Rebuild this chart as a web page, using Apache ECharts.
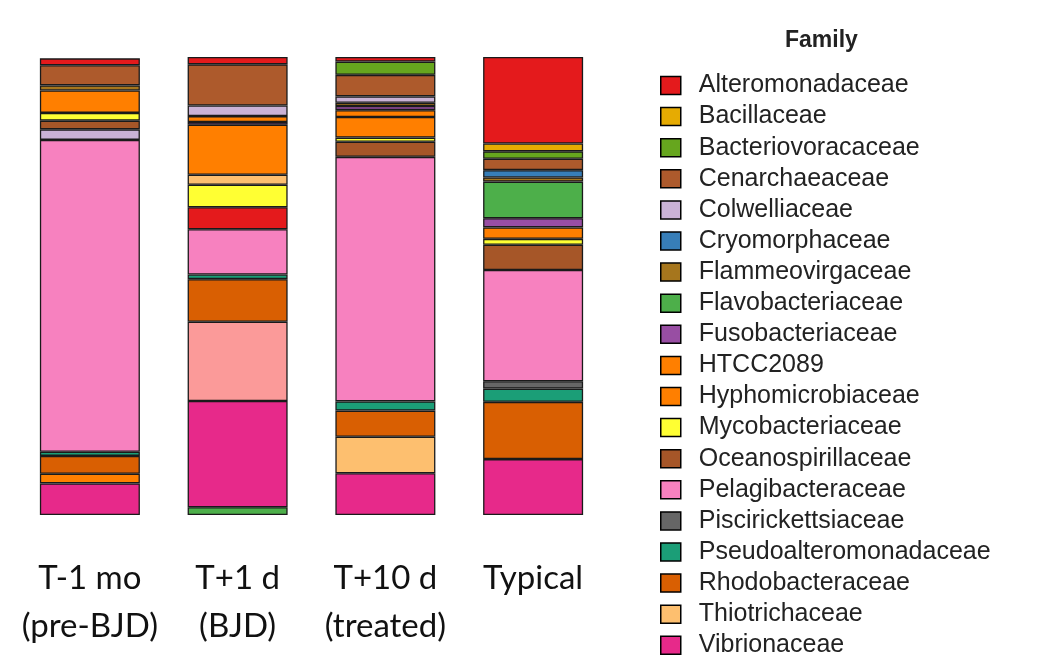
<!DOCTYPE html>
<html>
<head>
<meta charset="utf-8">
<script src="https://cdn.jsdelivr.net/npm/echarts@6/dist/echarts.min.js"></script>
<style>
  html, body { margin: 0; padding: 0; background: #ffffff; }
  #chart { width: 1062px; height: 672px; }
</style>
</head>
<body>
<div id="chart"></div>
<script>
// ---- Data (relative abundance, %, segments listed top to bottom) ----
const categories = ['T-1 mo\n(pre-BJD)', 'T+1 d\n(BJD)', 'T+10 d\n(treated)', 'Typical'];

const families = [
  'Alteromonadaceae', 'Bacillaceae', 'Bacteriovoracaceae', 'Cenarchaeaceae',
  'Colwelliaceae', 'Cryomorphaceae', 'Flammeovirgaceae', 'Flavobacteriaceae',
  'Fusobacteriaceae', 'HTCC2089', 'Hyphomicrobiaceae', 'Mycobacteriaceae',
  'Oceanospirillaceae', 'Pelagibacteraceae', 'Piscirickettsiaceae',
  'Pseudoalteromonadaceae', 'Rhodobacteraceae', 'Thiotrichaceae', 'Vibrionaceae'
];

const bar1Families = ['Alteromonadaceae', 'Cenarchaeaceae', 'Flammeovirgaceae', 'HTCC2089',
  'Mycobacteriaceae', 'Oceanospirillaceae', 'Colwelliaceae', 'Pelagibacteraceae',
  'Pseudoalteromonadaceae', 'Rhodobacteraceae', 'Hyphomicrobiaceae', 'Vibrionaceae'];
const bar1Values = [1.5, 4.4, 1.1, 4.9, 1.7, 1.9, 2.3, 68.1, 0.9, 3.9, 2.1, 6.9];

const bar2Families = ['Alteromonadaceae', 'Cenarchaeaceae', 'Colwelliaceae', 'HTCC2089',
  'Fusobacteriaceae', 'Hyphomicrobiaceae', 'Thiotrichaceae', 'Mycobacteriaceae',
  'Alteromonadaceae', 'Pelagibacteraceae', 'Pseudoalteromonadaceae', 'Rhodobacteraceae',
  'Other', 'Vibrionaceae', 'Flavobacteriaceae'];
const bar2Values = [1.6, 9.0, 2.3, 1.3, 0.6, 10.9, 2.2, 4.9, 4.8, 9.9, 1.0, 9.3, 17.3, 23.2, 1.7];

const bar3Families = ['Alteromonadaceae', 'Bacteriovoracaceae', 'Cenarchaeaceae', 'Colwelliaceae',
  'Flammeovirgaceae', 'Fusobacteriaceae', 'HTCC2089', 'Hyphomicrobiaceae', 'Mycobacteriaceae',
  'Oceanospirillaceae', 'Pelagibacteraceae', 'Pseudoalteromonadaceae', 'Rhodobacteraceae',
  'Thiotrichaceae', 'Vibrionaceae'];
const bar3Values = [1.0, 2.9, 4.7, 1.4, 0.7, 0.9, 1.5, 4.5, 0.9, 3.3, 53.4, 2.0, 5.7, 8.0, 9.1];

const bar4Families = ['Alteromonadaceae', 'Bacillaceae', 'Bacteriovoracaceae', 'Cenarchaeaceae',
  'Cryomorphaceae', 'Flammeovirgaceae', 'Flavobacteriaceae', 'Fusobacteriaceae', 'HTCC2089',
  'Mycobacteriaceae', 'Oceanospirillaceae', 'Pelagibacteraceae', 'Piscirickettsiaceae',
  'Pseudoalteromonadaceae', 'Rhodobacteraceae', 'Vibrionaceae'];
const bar4Values = [18.9, 1.7, 1.6, 2.5, 1.6, 0.9, 8.0, 2.0, 2.5, 1.3, 5.5, 24.3, 1.6, 2.9, 12.5, 12.2];

// ---- Colours ----
const palette = {
  'Alteromonadaceae': '#E41A1C', 'Bacillaceae': '#E6AB02', 'Bacteriovoracaceae': '#66A61E',
  'Cenarchaeaceae': '#AD5A2C', 'Colwelliaceae': '#CAB2D6', 'Cryomorphaceae': '#377EB8',
  'Flammeovirgaceae': '#A6761D', 'Flavobacteriaceae': '#4DAF4A', 'Fusobacteriaceae': '#984EA3',
  'HTCC2089': '#FF7F00', 'Hyphomicrobiaceae': '#FF7F00', 'Mycobacteriaceae': '#FFFF33',
  'Oceanospirillaceae': '#A65628', 'Pelagibacteraceae': '#F781BF', 'Piscirickettsiaceae': '#666666',
  'Pseudoalteromonadaceae': '#1B9E77', 'Rhodobacteraceae': '#D95F02', 'Thiotrichaceae': '#FDBF6F',
  'Vibrionaceae': '#E7298A', 'Other': '#FB9A99'
};

const bars = [
  { fam: bar1Families, val: bar1Values },
  { fam: bar2Families, val: bar2Values },
  { fam: bar3Families, val: bar3Values },
  { fam: bar4Families, val: bar4Values }
];

const maxLayers = Math.max(...bars.map(b => b.val.length));
const layerSeries = [];
for (let j = 0; j < maxLayers; j++) {
  layerSeries.push({
    name: 'layer' + j,
    type: 'bar',
    stack: 'total',
    barWidth: 100,
    silent: true,
    data: bars.map(b => {
      const k = b.val.length - 1 - j;   // j = 0 is the bottom segment
      if (k < 0) return '-';
      return { value: b.val[k], itemStyle: { color: palette[b.fam[k]] } };
    }),
    itemStyle: { borderColor: '#1a1a1a', borderWidth: 1.3 }
  });
}

const legendSeries = families.map(f => ({
  name: f, type: 'bar', stack: 'total', barWidth: 100, data: [],
  itemStyle: { color: palette[f], borderColor: '#000', borderWidth: 1.3 }
}));

const chart = echarts.init(document.getElementById('chart'), null, { renderer: 'canvas' });
chart.setOption({
  animation: false,
  backgroundColor: '#ffffff',
  title: {
    text: 'Family',
    left: 780, top: 24,
    textStyle: { fontFamily: 'Liberation Sans, Arial, sans-serif', fontWeight: 'bold', fontSize: 23, color: '#222' }
  },
  legend: {
    data: families,
    orient: 'vertical',
    left: 655, top: 68,
    height: 604,
    icon: 'rect',
    itemWidth: 20, itemHeight: 18, itemGap: 6.1,
    selectedMode: false,
    itemStyle: { borderColor: '#000', borderWidth: 1.5 },
    textStyle: {
      fontFamily: 'Liberation Sans, Arial, sans-serif', fontSize: 25, color: '#222',
      padding: [0, 0, 0, 13]
    }
  },
  grid: { left: 16, right: 455, top: 57, bottom: 157, containLabel: false },
  xAxis: {
    type: 'category',
    data: categories,
    axisLine: { show: false },
    axisTick: { show: false },
    axisLabel: {
      interval: 0, margin: 39,
      fontFamily: 'Lato', fontSize: 33, lineHeight: 48, color: '#111'
    }
  },
  yAxis: {
    type: 'value', min: 0, max: 100, show: false,
    splitLine: { show: false }
  },
  series: legendSeries.concat(layerSeries)
});
</script>
</body>
</html>
